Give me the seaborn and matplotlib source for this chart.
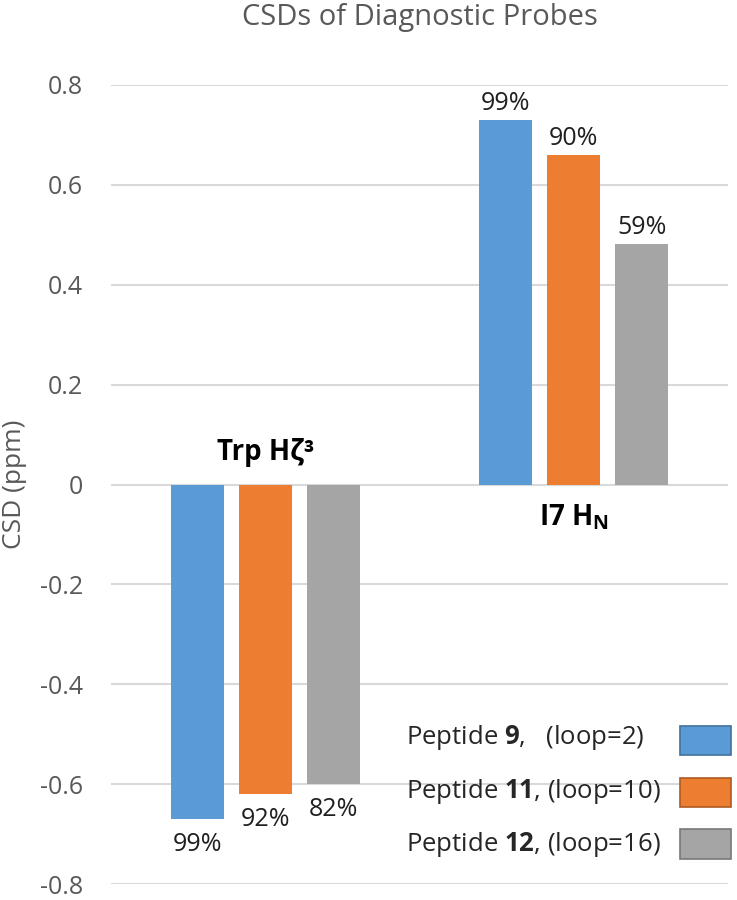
import matplotlib
matplotlib.use("Agg")
import matplotlib.pyplot as plt
import seaborn as sns
import pandas as pd
from matplotlib.patches import Patch

# ---- data ----
categories = ["Trp Hζ³", "I7 H$_\\mathbf{N}$"]
series = ["Peptide 9", "Peptide 11", "Peptide 12"]
legend_labels = ["Peptide $\\mathbf{9}$,   (loop=2)",
                 "Peptide $\\mathbf{11}$, (loop=10)",
                 "Peptide $\\mathbf{12}$, (loop=16)"]
values = {
    "Peptide 9": [-0.67, 0.73],
    "Peptide 11": [-0.62, 0.66],
    "Peptide 12": [-0.60, 0.482],
}
pct_labels = {
    "Peptide 9": ["99%", "99%"],
    "Peptide 11": ["92%", "90%"],
    "Peptide 12": ["82%", "59%"],
}
yticks = [-0.8, -0.6, -0.4, -0.2, 0, 0.2, 0.4, 0.6, 0.8]
ytick_labels = ["-0.8", "-0.6", "-0.4", "-0.2", "0", "0.2", "0.4", "0.6", "0.8"]
title = "CSDs of Diagnostic Probes"
ylabel = "CSD (ppm)"

colors = ["#5B9BD5", "#ED7D31", "#A5A5A5"]
edge_colors = ["#41719C", "#AE5A21", "#787878"]

rows = []
for s in series:
    for c, v in zip(categories, values[s]):
        rows.append({"category": c, "series": s, "value": v})
df = pd.DataFrame(rows)

sns.set_style("white")
plt.rcParams["font.family"] = ["Open Sans", "DejaVu Sans"]
plt.rcParams["mathtext.fontset"] = "custom"
plt.rcParams["mathtext.rm"] = "Open Sans"
plt.rcParams["mathtext.bf"] = "Open Sans:bold"

fig = plt.figure(figsize=(7.37, 9.0), dpi=100)
ax_left, ax_right, ax_top, ax_bottom = 111, 728, 85, 884
ax = fig.add_axes([ax_left / 737, 1 - ax_bottom / 900,
                   (ax_right - ax_left) / 737, (ax_bottom - ax_top) / 900])

sns.barplot(data=df, x="category", y="value", hue="series", order=categories,
            hue_order=series, palette=colors, width=0.66, gap=0.22,
            saturation=1, ax=ax, legend=False, linewidth=0)

ax.set_ylim(-0.8, 0.8)
ax.set_xlim(-0.5, 1.5)
ax.set_yticks(yticks)
ax.set_yticklabels(ytick_labels, fontsize=18, color="#595959")
ax.set_xticks([])
ax.set_xlabel("")
ax.set_ylabel(ylabel, fontsize=19, color="#595959", va="center")
ax.yaxis.set_label_coords(-(ax_left - 15) / (ax_right - ax_left), 0.5)
ax.tick_params(axis="y", length=0, pad=20)
for sp in ax.spines.values():
    sp.set_visible(False)
ax.grid(axis="y", color="#D9D9D9", linewidth=1.5)
ax.set_axisbelow(True)

for cont, s in zip(ax.containers, series):
    vals = values[s]
    pos = [l if v >= 0 else "" for l, v in zip(pct_labels[s], vals)]
    neg = [l if v < 0 else "" for l, v in zip(pct_labels[s], vals)]
    ax.bar_label(cont, labels=pos, fontsize=18, color="#202020", padding=3)
    ax.bar_label(cont, labels=neg, fontsize=18, color="#202020", padding=9)

# category labels
ax.text(0, 0.035, categories[0], ha="center", va="bottom", fontsize=20,
        fontweight="bold", color="black")
ax.text(1, -0.035, categories[1], ha="center", va="top", fontsize=20,
        fontweight="bold", color="black")

fig.text((ax_left + ax_right) / 2 / 737, 1 - 17 / 900, title, fontsize=21,
         color="#595959", ha="center", va="center")

# legend: left-aligned texts, boxes on the right (two aligned legends)
common = dict(frameon=False, fontsize=18.5, handleheight=1.4, labelspacing=0.86,
              borderpad=0, borderaxespad=0, bbox_transform=fig.transFigure)
blank = [Patch(facecolor="none", edgecolor="none") for _ in series]
leg_text = ax.legend(blank, legend_labels, loc="lower left",
                     bbox_to_anchor=(406 / 737, 1 - 859 / 900),
                     handlelength=0, handletextpad=0, **common)
ax.add_artist(leg_text)
handles = [Patch(facecolor=c, edgecolor=e, linewidth=1.2) for c, e in zip(colors, edge_colors)]
ax.legend(handles, ["", "", ""], loc="lower right",
          bbox_to_anchor=(731 / 737, 1 - 859 / 900),
          handlelength=2.0, handletextpad=0, **common)

fig.savefig("out.png", dpi=100)
